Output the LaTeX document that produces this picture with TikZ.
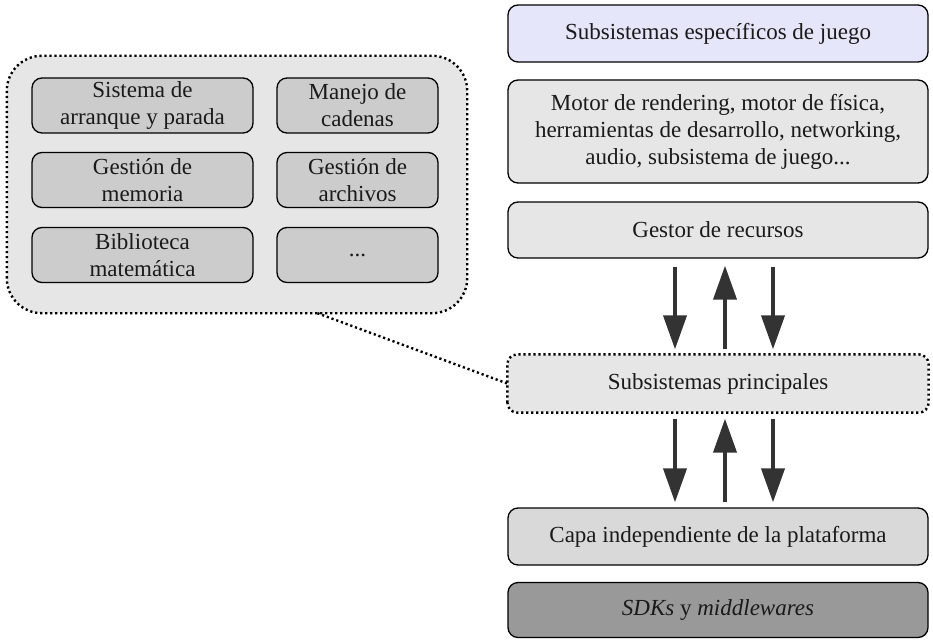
\documentclass[tikz,border=0pt]{standalone}
\usepackage{fontspec}
\setmainfont{Liberation Serif}
\usetikzlibrary{arrows.meta}
\definecolor{lav}{HTML}{E6E6FA}
\definecolor{lg}{HTML}{E6E6E6}
\definecolor{mg}{HTML}{D9D9D9}
\definecolor{ig}{HTML}{CCCCCC}
\definecolor{dg}{HTML}{999999}
\definecolor{ar}{HTML}{333333}
\definecolor{tx}{HTML}{1A1A1A}
\tikzset{
  x=1pt,y=1pt,
  every node/.style={font=\fontsize{23}{27}\selectfont, text=tx, align=center},
  layer/.style={draw=black, line width=1.3pt, rounded corners=10pt, minimum width=420pt, inner sep=0pt},
  inner/.style={draw=black, line width=1.3pt, rounded corners=10pt, minimum height=55pt, inner sep=0pt},
  dotline/.style={line width=2.4pt, dash pattern=on 2.2pt off 2.8pt},
  flow/.style={draw=ar, line width=4pt, -{Triangle[length=34pt,width=23pt]}}
}
\begin{document}
\begin{tikzpicture}
\useasboundingbox (0,0) rectangle (933,-639);
% right column
\node[layer, fill=lav, minimum height=57pt] (spec) at (718,-33.5) {Subsistemas específicos de juego};
\node[layer, fill=lg, minimum height=103pt] (motor) at (718,-131.5) {Motor de rendering, motor de física,\\herramientas de desarrollo, networking,\\audio, subsistema de juego...};
\node[layer, fill=lg, minimum height=56pt] (gestor) at (718,-230) {Gestor de recursos};
\node[layer, fill=lg, minimum height=57pt, draw=none] (princ) at (718,-383.5) {Subsistemas principales};
\draw[dotline, rounded corners=10pt] (princ.south west) rectangle (princ.north east);
\node[layer, fill=mg, minimum height=57pt] (capa) at (718,-536.5) {Capa independiente de la plataforma};
\node[layer, fill=dg, minimum height=55pt] (sdk) at (718,-610) {\textit{SDKs} y \textit{middlewares}};
% left group
\node[draw=none, fill=lg, rounded corners=35pt, minimum width=460pt, minimum height=257pt, inner sep=0pt] (big) at (237,-184.5) {};
\draw[dotline, rounded corners=35pt] (big.south west) rectangle (big.north east);
\node[inner, fill=ig, minimum width=221pt] (c11) at (142.5,-105.5) {Sistema de\\arranque y parada};
\node[inner, fill=ig, minimum width=161pt] (c12) at (357.5,-105.5) {Manejo de\\cadenas};
\node[inner, fill=ig, minimum width=221pt] (c21) at (142.5,-180) {Gestión de\\memoria};
\node[inner, fill=ig, minimum width=161pt] (c22) at (357.5,-180) {Gestión de\\archivos};
\node[inner, fill=ig, minimum width=221pt] (c31) at (142.5,-255) {Biblioteca\\matemática};
\node[inner, fill=ig, minimum width=161pt] (c32) at (357.5,-255) {...};
% connector
\draw[dotline] (big.-58) -- (princ.west);
% arrows upper
\draw[flow] ([xshift=-43pt,yshift=-8pt]gestor.south) -- ([xshift=-43pt,yshift=5pt]princ.north);
\draw[flow] ([xshift=7pt,yshift=5pt]princ.north) -- ([xshift=7pt,yshift=-7pt]gestor.south);
\draw[flow] ([xshift=55pt,yshift=-8pt]gestor.south) -- ([xshift=55pt,yshift=5pt]princ.north);
% arrows lower
\draw[flow] ([xshift=-43pt,yshift=-6pt]princ.south) -- ([xshift=-43pt,yshift=5pt]capa.north);
\draw[flow] ([xshift=7pt,yshift=5pt]capa.north) -- ([xshift=7pt,yshift=-6pt]princ.south);
\draw[flow] ([xshift=55pt,yshift=-6pt]princ.south) -- ([xshift=55pt,yshift=5pt]capa.north);
\end{tikzpicture}
\end{document}
